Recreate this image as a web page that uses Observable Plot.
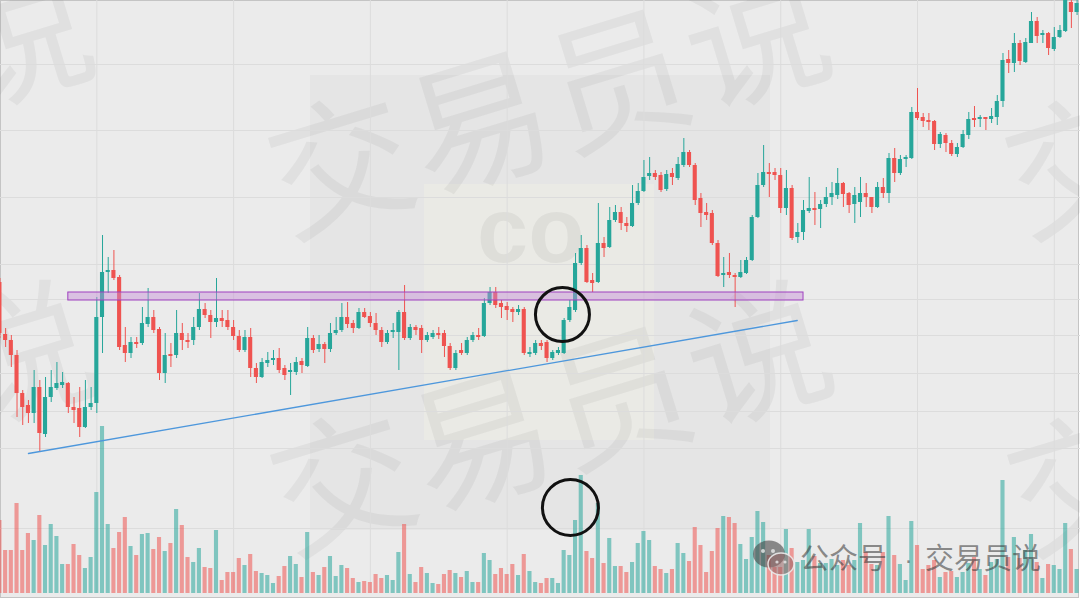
<!DOCTYPE html>
<html><head><meta charset="utf-8">
<script src="https://cdn.jsdelivr.net/npm/d3@7"></script>
<script src="https://cdn.jsdelivr.net/npm/@observablehq/plot@0.6"></script>
<style>
body{margin:0;background:#fff}
#wrap{position:relative;width:1080px;height:601px;overflow:hidden;background:#fff}
.layer{position:absolute;left:0;top:0}
#panel{position:absolute;left:0;top:0;width:1079px;height:598px;box-sizing:border-box;border:1px solid #c4c4c4;background:#ebebeb}
</style>
</head><body>
<div id="wrap"><div id="panel"></div></div>
<script>
// ---- data (price units) ----
const open = [
318,266,260,245,207,195,187,213,166,203,
212,215,217,193,192,173,193,197,283,328,
330,323,255,247,258,257,276,283,271,227,
246,245,267,260,260,273,291,285,278,282,
280,273,264,250,263,232,223,237,240,242,
232,228,228,239,234,262,251,256,251,267,
270,283,277,272,288,284,277,270,258,268,
268,288,262,273,272,260,263,267,267,254,
232,250,247,260,265,264,297,308,297,294,
291,288,291,246,247,257,258,242,247,247,
280,290,337,352,320,318,357,353,380,388,
377,374,397,409,424,427,425,411,427,422,
435,448,435,402,388,387,357,325,328,325,
323,327,340,383,415,428,428,425,392,412,
363,368,389,392,391,396,403,405,417,407,
396,398,407,403,393,413,407,442,427,441,
442,488,483,480,479,456,465,457,446,453,
465,482,481,483,481,483,499,541,537,557,
538,557,579,565,567,551,563,569,598,588];
const high = [
322,272,265,250,210,200,230,220,223,230,
238,228,218,203,213,220,213,303,365,343,
350,325,273,263,263,293,312,290,273,267,
257,290,277,267,283,307,297,290,322,290,
290,280,270,270,272,237,242,248,250,252,
235,237,243,242,273,265,265,258,277,283,
297,298,280,292,292,288,287,273,270,277,
290,315,276,275,275,268,270,273,270,257,
250,257,263,268,272,302,313,313,300,298,
293,295,293,253,260,260,260,250,253,282,
300,347,365,355,327,397,363,393,395,393,
383,415,417,440,443,430,428,430,432,443,
462,450,437,407,397,390,360,343,347,327,
340,343,385,427,455,437,432,432,430,415,
377,400,423,408,400,413,418,432,418,408,
413,423,417,403,418,422,447,452,445,445,
493,512,487,487,480,468,467,460,457,470,
488,494,485,483,492,505,547,550,567,560,
562,588,583,570,568,573,575,610,605,600];
const low = [
262,253,233,183,175,177,177,148,163,198,
210,212,187,177,163,172,190,187,247,307,
320,250,238,242,252,255,273,267,220,217,
233,242,250,252,255,270,282,262,273,273,
270,260,248,248,223,217,222,233,235,227,
220,205,225,227,233,247,248,237,248,265,
268,272,267,271,282,273,265,253,256,262,
230,260,260,265,247,258,261,261,243,230,
230,245,245,258,260,263,295,292,282,280,
278,285,245,243,245,250,238,240,245,246,
278,288,335,317,308,317,343,352,378,370,
368,373,395,408,420,420,408,409,415,420,
433,433,395,373,380,355,323,313,322,293,
322,326,339,382,413,403,420,387,385,360,
357,360,387,375,372,393,395,401,393,387,
377,383,393,387,392,402,397,418,425,433,
441,480,473,470,450,452,448,444,443,452,
461,473,473,470,477,475,493,527,528,535,
537,557,557,557,545,549,562,568,572,585];
const close = [
267,260,245,207,193,187,213,167,203,213,
217,218,193,190,173,193,197,283,328,330,
322,253,247,258,256,277,283,270,227,245,
244,267,260,258,273,291,285,278,282,279,
273,264,250,263,232,223,238,240,242,230,
225,230,238,235,262,250,256,251,267,270,
283,276,272,288,283,277,270,258,267,270,
288,262,273,270,260,265,267,265,254,232,
247,247,260,265,263,297,308,295,293,290,
288,291,247,248,257,254,242,248,250,280,
293,337,352,318,317,357,352,380,388,377,
374,397,409,423,427,423,410,426,423,436,
448,435,400,387,385,357,324,327,325,323,
328,340,383,415,428,426,425,392,412,362,
368,390,392,390,396,403,407,417,406,395,
405,407,403,393,413,407,442,427,441,443,
488,482,479,478,456,466,457,446,453,466,
481,480,483,481,484,499,540,537,557,539,
558,579,564,567,552,563,570,605,588,597];
const volume = [
73,43,43,90,43,60,53,78,48,69,
57,29,29,49,38,25,36,101,167,69,
45,61,76,47,38,59,60,44,56,42,
50,84,68,36,31,45,26,25,63,13,
21,21,35,28,39,22,20,18,10,17,
27,37,29,16,61,21,18,26,37,17,
28,25,15,11,12,11,19,15,18,13,
41,69,19,11,26,20,10,9,19,23,
20,16,22,11,11,40,33,19,25,19,
29,18,39,22,11,10,15,15,10,43,
38,73,118,42,35,90,30,55,27,27,
21,31,50,62,53,27,24,20,24,50,
40,32,66,48,21,42,65,77,76,70,
49,34,56,82,71,38,26,26,64,45,
31,33,64,37,30,30,34,28,33,28,
33,70,41,29,28,41,77,38,29,13,
72,48,24,28,33,16,21,22,16,21,
30,36,24,18,31,34,113,36,56,35,
43,59,31,15,29,28,24,70,44,24];

// grid positions (bar index / price)
const gridBars = [17, 41, 65, 89, 113, 137, 161, 185];
const gridPrices = [536, 470, 403, 336, 301, 265, 227, 189, 152, 72];
// annotations
const zoneBars = [12, 141];
const zonePrices = [300, 308];
const trendBars = [5.0, 139.9];
const trendPrices = [147, 280];
const breakoutCircle = {i: 98.7, p: 286};
const volumeCircle = {i: 100.1, v: 86};

const UP = "#26a69a", DOWN = "#ef5350";
const bars = open.map((o, i) => ({i, o, h: high[i], l: low[i], c: close[i], v: volume[i], up: close[i] >= o}));
const upBars = bars.filter(d => d.up), downBars = bars.filter(d => !d.up);
const xDomain = [0.1, 189.6];
const hw = 0.36;

const common = {width: 1080, height: 601, marginLeft: 0, marginRight: 0, marginTop: 0,
  x: {domain: xDomain, axis: null}, style: {background: "transparent", overflow: "hidden"}};

const wrap = document.getElementById("wrap");

// watermark (under the chart marks)
const rows = [{x: 288, y: 236}, {x: 290, y: 553}];
const tileStep = 737;
let wm = `<svg class="layer" width="1080" height="601" xmlns="http://www.w3.org/2000/svg" style="pointer-events:none">
<rect x="310" y="75" width="460" height="455" fill="rgba(0,0,0,0.025)"/>
<rect x="424" y="184" width="230" height="256" fill="rgba(255,255,230,0.2)"/>
<text x="477" y="262" font-family="Liberation Sans, Arial" font-weight="700" font-size="92" fill="rgba(0,0,0,0.05)">co</text>
<g font-family="Noto Sans CJK SC" font-size="142" fill="rgba(80,80,80,0.07)" letter-spacing="3">`;
for (const r of rows) for (const k of [-1, 0, 1])
  wm += `<text transform="translate(${r.x + k * tileStep},${r.y}) rotate(-17)">交易员说</text>`;
wm += `</g></svg>`;
wrap.insertAdjacentHTML("beforeend", wm);

// volume layer
const volPlot = Plot.plot({...common, marginBottom: 8,
  y: {domain: [0, 593], axis: null},
  marks: [
    Plot.ruleY(gridPrices.map(p => p - 7), {stroke: "#dcdcdc", strokeWidth: 1}),
    Plot.ruleX(gridBars, {stroke: "#dcdcdc", strokeWidth: 1}),
    Plot.rect(upBars, {x1: d => d.i - hw, x2: d => d.i + hw, y1: 0, y2: "v", fill: UP, fillOpacity: 0.55}),
    Plot.rect(downBars, {x1: d => d.i - hw, x2: d => d.i + hw, y1: 0, y2: "v", fill: DOWN, fillOpacity: 0.55}),
    Plot.dot([volumeCircle], {x: "i", y: "v", r: 28, stroke: "#111", strokeWidth: 3, fill: "none"})
  ]});

// price layer
const body = (data, color) => Plot.rect(data, {
  x1: d => d.i - hw, x2: d => d.i + hw,
  y1: d => Math.min(d.o, d.c), y2: d => Math.max(Math.max(d.o, d.c), Math.min(d.o, d.c) + 1.2),
  fill: color});
const pricePlot = Plot.plot({...common, marginBottom: 0,
  y: {domain: [-1, 600], axis: null},
  marks: [
    Plot.ruleX(upBars, {x: "i", y1: "l", y2: "h", stroke: UP, strokeWidth: 1}),
    Plot.ruleX(downBars, {x: "i", y1: "l", y2: "h", stroke: DOWN, strokeWidth: 1}),
    body(upBars, UP),
    body(downBars, DOWN),
    Plot.rect([{}], {x1: zoneBars[0], x2: zoneBars[1], y1: zonePrices[0], y2: zonePrices[1],
      fill: "#c58fd6", fillOpacity: 0.45, stroke: "#a040c0", strokeWidth: 1}),
    Plot.line(trendBars.map((b, k) => ({b, p: trendPrices[k]})), {x: "b", y: "p", stroke: "#4d97dc", strokeWidth: 1.3}),
    Plot.dot([breakoutCircle], {x: "i", y: "p", r: 27, stroke: "#111", strokeWidth: 3, fill: "none"})
  ]});

volPlot.classList.add("layer"); pricePlot.classList.add("layer");
wrap.appendChild(volPlot); wrap.appendChild(pricePlot);

// account label (on top)
const label = `<svg class="layer" width="1080" height="601" xmlns="http://www.w3.org/2000/svg" style="pointer-events:none">
<g transform="translate(752,540)">
  <ellipse cx="17" cy="14" rx="16" ry="13.5" fill="rgba(70,70,70,0.6)"/>
  <ellipse cx="29" cy="24" rx="13" ry="11" fill="rgba(150,100,100,0.55)" stroke="rgba(235,235,235,0.9)" stroke-width="1.5"/>
  <circle cx="11" cy="11" r="2" fill="rgba(235,235,235,0.8)"/><circle cx="21" cy="11" r="2" fill="rgba(235,235,235,0.8)"/>
  <circle cx="25" cy="22" r="1.6" fill="rgba(235,235,235,0.8)"/><circle cx="33" cy="22" r="1.6" fill="rgba(235,235,235,0.8)"/>
</g>
<text y="569" font-family="Noto Sans CJK SC" font-size="29" fill="rgba(60,60,60,0.58)"><tspan x="800">公众号</tspan><tspan x="905" font-family="DejaVu Sans" font-size="22">·</tspan><tspan x="925">交易员说</tspan></text>
</svg>`;
wrap.insertAdjacentHTML("beforeend", label);
</script>
</body></html>
